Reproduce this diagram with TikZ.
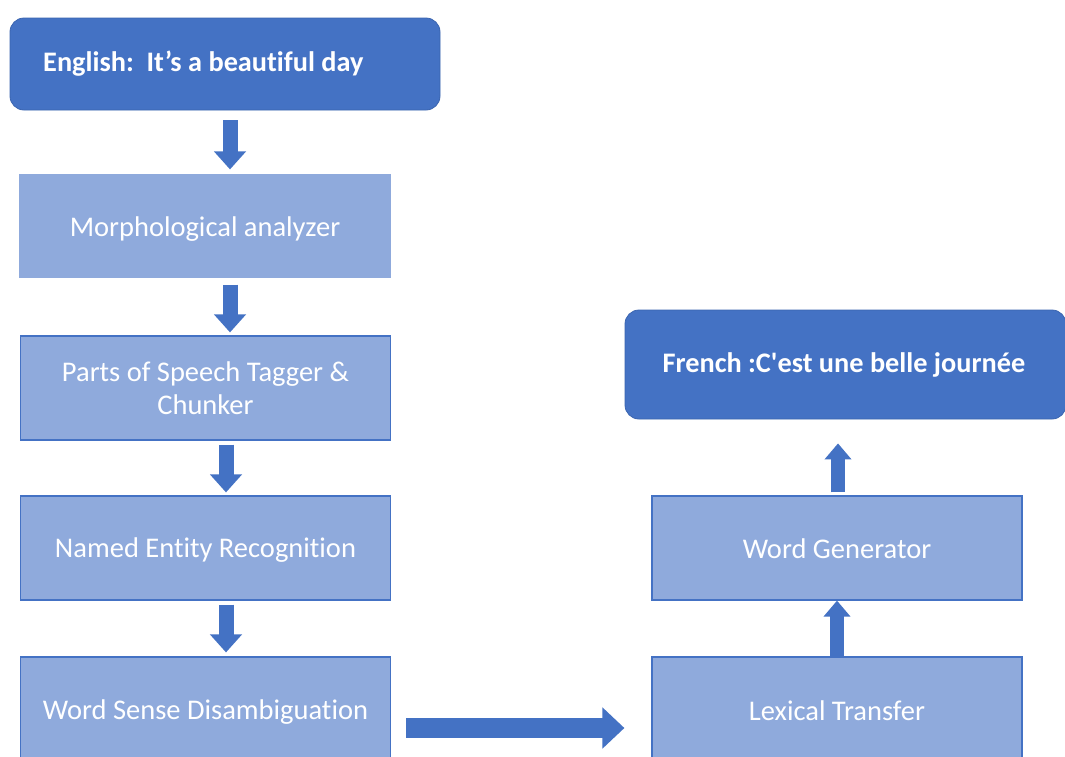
\documentclass[tikz,border=0pt]{standalone}
\usepackage{fontspec}
\setmainfont{Carlito}[Ligatures=NoCommon]
\newfontfamily\plainquotes{Carlito}[Ligatures=NoCommon]
\usetikzlibrary{arrows.meta}
\definecolor{dark}{HTML}{4472C4}
\definecolor{darkedge}{HTML}{3B65B0}
\definecolor{light}{HTML}{8FAADC}
% lower a label without changing the size it reports
\newcommand{\lowerby}[2]{\raisebox{-#1}[\height][\depth]{#2}}
\tikzset{
  stage/.style={rectangle, fill=light, draw=dark, line width=1.2pt,
    minimum width=370pt, text=white, align=center, inner sep=0pt,
    font=\fontsize{28.5}{33}\selectfont},
  endpoint/.style={rectangle, rounded corners=14pt, fill=dark, draw=darkedge,
    line width=0.8pt, inner sep=0pt},
  endtext/.style={text=white, font=\fontsize{28.3}{33}\selectfont\bfseries, inner sep=0pt},
  downarrow/.style={draw=dark, line width=15pt,
    -{Triangle[width=31pt,length=18pt]}},
  uparrow/.style={draw=dark, line width=14pt,
    -{Triangle[width=26pt,length=16pt]}},
  sidearrow/.style={draw=dark, line width=20pt,
    -{Triangle[width=40pt,length=22pt]}},
}
\begin{document}
\begin{tikzpicture}[x=1pt,y=-1pt]
\clip (0,0) rectangle (1065,756);
\fill[white] (0,0) rectangle (1065,756);

% source sentence
\node[endpoint, minimum width=430pt, minimum height=92pt] (eng) at (225,64) {};
\node[endtext, anchor=west] (engtext) at (43,64) {English:\ \ It’s a beautiful day};

% analysis pipeline
\node[stage, draw=light, minimum height=102pt] (morph) at (205,226) {\lowerby{3pt}{Morphological analyzer}};
\node[stage, minimum height=104pt] (pos) at (205.5,388) {Parts of Speech Tagger \&\\Chunker};
\node[stage, minimum height=104pt] (ner) at (205.5,548) {\lowerby{2pt}{Named Entity Recognition}};
\node[stage, minimum height=106pt] (wsd) at (205.5,710) {\lowerby{2pt}{Word Sense Disambiguation}};

% generation pipeline
\node[stage, minimum height=106pt] (lex) at (837,710) {\lowerby{1pt}{Lexical Transfer}};
\node[stage, minimum height=104pt] (wg) at (837,548) {\lowerby{1pt}{Word Generator}};

% target sentence
\node[endpoint, minimum width=441pt, minimum height=109pt] (fr) at (845.5,364.5) {};
\node[endtext] (frtext) at (844,364.5) {\plainquotes French :C'est une belle journée};

% connectors
\draw[downarrow, shorten <=10pt, shorten >=5pt] ([xshift=5pt]eng.south) -- ([xshift=25pt]morph.north);
\draw[downarrow, shorten <=7pt, shorten >=3pt] ([xshift=25pt]morph.south) -- ([xshift=24.5pt]pos.north);
\draw[downarrow, shorten <=4pt, shorten >=3pt] ([xshift=20.5pt]pos.south) -- ([xshift=20.5pt]ner.north);
\draw[downarrow, shorten <=4pt, shorten >=4pt] ([xshift=20.5pt]ner.south) -- ([xshift=20.5pt]wsd.north);
\draw[sidearrow, shorten <=15pt, shorten >=27pt] ([yshift=-18pt]wsd.east) -- ([yshift=-18pt]lex.west);
\draw[uparrow, shorten <=0pt, shorten >=0pt] (lex.north) -- (wg.south);
\draw[uparrow, shorten <=3pt, shorten >=24pt] ([xshift=1pt]wg.north) -- ([xshift=-7.5pt]fr.south);
\end{tikzpicture}
\end{document}
